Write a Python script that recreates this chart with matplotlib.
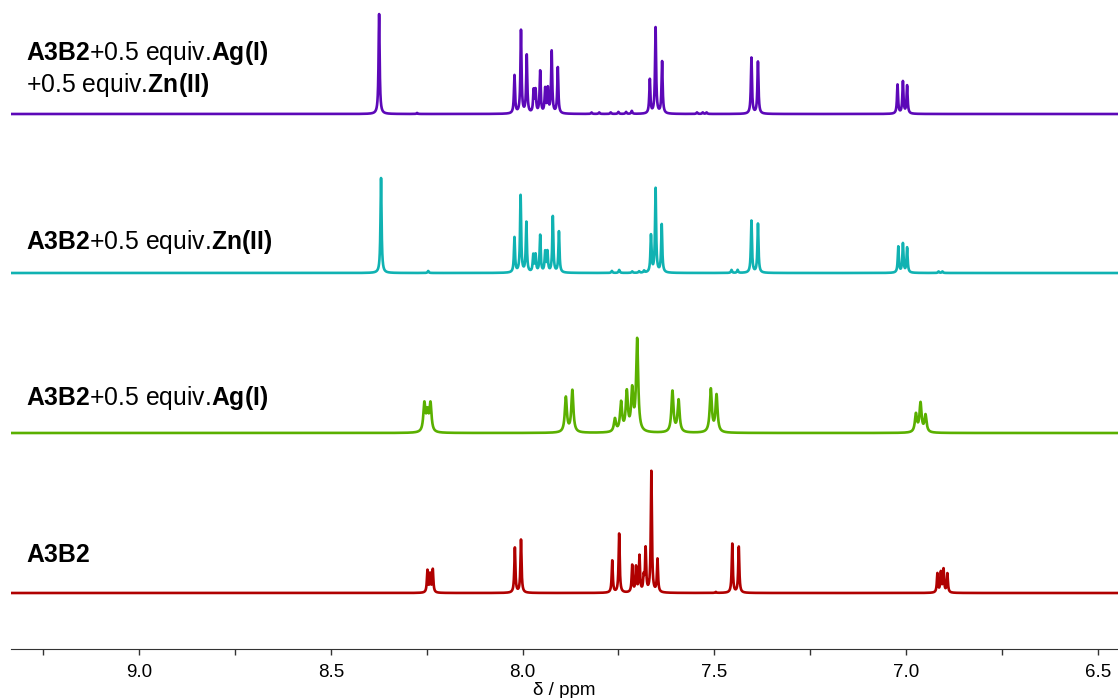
import numpy as np
import matplotlib.pyplot as plt

plt.rcParams['font.family'] = ['Liberation Sans', 'DejaVu Sans']
plt.rcParams['mathtext.fontset'] = 'custom'
plt.rcParams['mathtext.rm'] = 'Liberation Sans'
plt.rcParams['mathtext.bf'] = 'Liberation Sans:bold'

# peak lists: shift (ppm), height (px above baseline)
red_ppm = [8.248, 8.241, 8.234, 8.020, 8.004, 7.766, 7.748, 7.714, 7.704, 7.695,
           7.684, 7.679, 7.664, 7.648, 7.496, 7.453, 7.436, 6.918, 6.909, 6.902, 6.892]
red_h = [22, 18, 23, 45, 53, 32, 59, 27, 25, 36, 14, 43, 121, 33, 1, 49, 46, 19, 20, 23, 19]

green_ppm = [8.256, 8.248, 8.240, 7.887, 7.870, 7.759, 7.743, 7.728, 7.714, 7.701,
             7.609, 7.593, 7.509, 7.494, 6.974, 6.962, 6.949]
green_h = [28, 18, 28, 35, 42, 13, 29, 39, 40, 92, 41, 32, 43, 37, 18, 29, 17]

cyan_ppm = [8.369, 8.246, 8.021, 8.005, 7.990, 7.972, 7.966, 7.954, 7.941, 7.935,
            7.921, 7.905, 7.767, 7.748, 7.714, 7.696, 7.683, 7.665, 7.653, 7.637,
            7.455, 7.439, 7.403, 7.386, 7.020, 7.008, 6.997, 6.915, 6.905]
cyan_h = [95, 2, 35, 77, 50, 17, 17, 37, 20, 20, 56, 41, 2, 3, 1.5, 1.5, 2,
          37, 84, 48, 3, 3, 52, 49, 26, 29, 25, 1.5, 1.5]

purple_ppm = [8.374, 8.275, 8.021, 8.004, 7.989, 7.971, 7.966, 7.954, 7.941, 7.934,
              7.924, 7.908, 7.820, 7.800, 7.770, 7.750, 7.730, 7.715, 7.668, 7.653,
              7.636, 7.545, 7.530, 7.520, 7.403, 7.386, 7.022, 7.008, 6.997]
purple_h = [100, 1, 38, 83, 58, 22, 22, 42, 24, 24, 62, 46, 1.5, 1.5, 1.5, 2, 2, 3,
            34, 86, 52, 1.5, 1.5, 1.5, 56, 52, 29, 32, 28]

spectra = [
    ("red", red_ppm, red_h, 56, 0.0017, "#b00000",
     r"$\mathbf{A3B2}$"),
    ("green", green_ppm, green_h, 216, 0.0032, "#5ab000",
     r"$\mathbf{A3B2}$+0.5 equiv.$\mathbf{Ag(I)}$"),
    ("cyan", cyan_ppm, cyan_h, 376, 0.0017, "#10b2b2",
     r"$\mathbf{A3B2}$+0.5 equiv.$\mathbf{Zn(II)}$"),
    ("purple", purple_ppm, purple_h, 535, 0.0017, "#5c08b8",
     r"$\mathbf{A3B2}$+0.5 equiv.$\mathbf{Ag(I)}$" + "\n" + r"+0.5 equiv.$\mathbf{Zn(II)}$"),
]
label_y = {"red": 94, "green": 251, "cyan": 407, "purple": 580}

x = np.linspace(9.334, 6.447, 30000)

fig = plt.figure(figsize=(11.18, 6.98), dpi=100)
ax = fig.add_axes([11 / 1118, 49 / 698, 1107 / 1118, 649 / 698])

for name, pos, hts, base, gam, col, lab in spectra:
    y = np.full_like(x, float(base))
    for p, h in zip(pos, hts):
        y += h / (1 + ((x - p) / gam) ** 2)
    ax.plot(x, y, color=col, lw=1.9, solid_joinstyle='round')
    ax.text(9.294, label_y[name], lab, fontsize=17.8, va='center', ha='left',
            linespacing=1.22)

ax.set_xlim(9.334, 6.447)
ax.set_ylim(0, 649)
for s in ['left', 'right', 'top']:
    ax.spines[s].set_visible(False)
ax.spines['bottom'].set_color('#333333')
ax.set_yticks([])
ax.set_xticks([9.0, 8.5, 8.0, 7.5, 7.0, 6.5])
ax.set_xticks([9.25, 8.75, 8.25, 7.75, 7.25, 6.75], minor=True)
ax.tick_params(axis='x', which='both', length=4.5, width=1, color='#333333',
               labelsize=13.5, pad=6)
ax.set_xlabel("δ / ppm", fontsize=13.5, labelpad=1)

fig.savefig("out.png", dpi=100)
